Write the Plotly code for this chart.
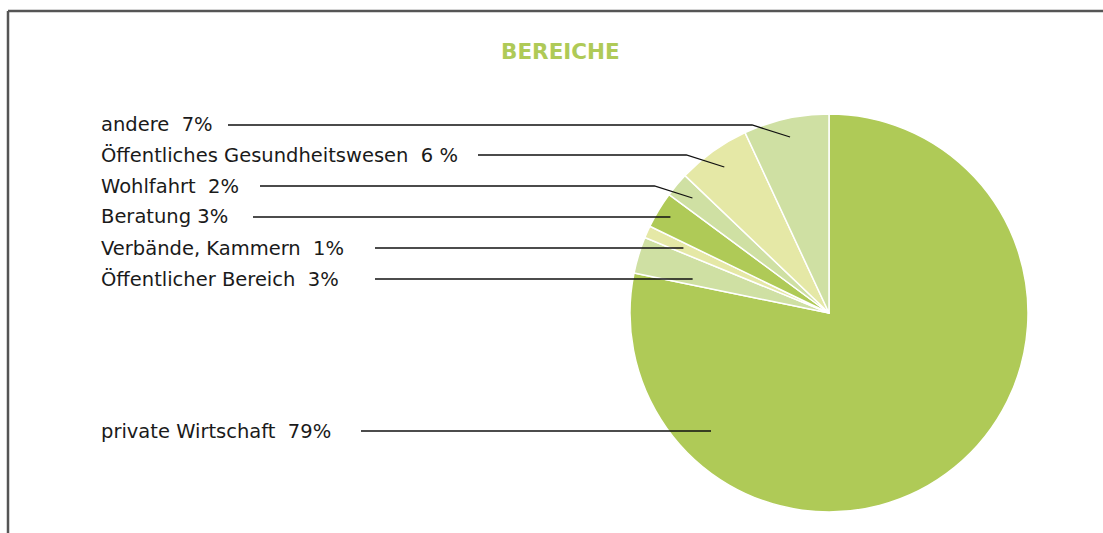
import math
import plotly.graph_objects as go

# ---- data ----
categories = ["andere", "Öffentliches Gesundheitswesen", "Wohlfahrt", "Beratung",
              "Verbände, Kammern", "Öffentlicher Bereich", "private Wirtschaft"]
values = [7, 6, 2, 3, 1, 3, 79]
label_texts = ["andere\u00a0 7%", "Öffentliches Gesundheitswesen\u00a0 6 %", "Wohlfahrt\u00a0 2%",
               "Beratung 3%", "Verbände, Kammern\u00a0 1%", "Öffentlicher Bereich\u00a0 3%",
               "private Wirtschaft\u00a0 79%"]
title_text = "BEREICHE"

# ---- style / layout ----
GREEN = "#AFCA57"
LIGHT = "#CFE0A3"
YELLOW = "#E5E8A6"
slice_colors = [LIGHT, YELLOW, LIGHT, GREEN, YELLOW, LIGHT, GREEN]

W, H = 1103, 533
CX, CY, R = 829, 313, 199
label_x = 99
label_y = [125, 155, 186, 217, 248, 279, 431]
line_start_x = [228, 478, 260, 253, 375, 375, 361]
diag_drop = [12, 12, 12, 0, 0, 0, 0]
diag_dx = 38
angle_override = {5: 76.0, 6: 135.0}
FONT = "DejaVu Sans"


def px(x):
    return x / W


def py(y):
    return 1 - y / H


fig = go.Figure()
# slices listed in reverse so that, drawn clockwise from 12 o'clock,
# the first category ends up immediately left of 12 o'clock (counterclockwise order)
fig.add_trace(go.Pie(
    labels=categories[::-1], values=values[::-1], sort=False, direction="clockwise",
    rotation=0, textinfo="none", hoverinfo="label+percent", showlegend=False,
    marker=dict(colors=slice_colors[::-1], line=dict(color="white", width=1.5)),
    domain=dict(x=[px(CX - R), px(CX + R)], y=[py(CY + R), py(CY - R)]),
))

total = sum(values)
shapes = []
annotations = []
cum = 0
for i, v in enumerate(values):
    mid = (cum + v / 2) / total * 360.0  # counterclockwise from 12 o'clock
    cum += v
    ang = math.radians(angle_override.get(i, mid))
    ly = label_y[i]
    ay = ly + diag_drop[i]
    r = (CY - ay) / math.cos(ang)
    ax = CX - r * math.sin(ang)
    if diag_drop[i]:
        pts = [(line_start_x[i], ly), (ax - diag_dx, ly), (ax, ay)]
    else:
        pts = [(line_start_x[i], ly), (ax, ay)]
    path = "M " + " L ".join(f"{px(x):.5f},{py(y):.5f}" for x, y in pts)
    shapes.append(dict(type="path", xref="paper", yref="paper", path=path,
                       line=dict(color="#111111", width=1.3)))
    annotations.append(dict(x=px(label_x), y=py(ly), xref="paper", yref="paper",
                            xanchor="left", yanchor="middle", showarrow=False,
                            text=label_texts[i],
                            font=dict(family=FONT, size=19.5, color="#1a1a1a")))

# frame (top and left edges)
shapes.append(dict(type="line", xref="paper", yref="paper", x0=px(8), x1=1.0, y0=py(11), y1=py(11),
                   line=dict(color="#555555", width=2.5)))
shapes.append(dict(type="line", xref="paper", yref="paper", x0=px(8), x1=px(8), y0=py(11), y1=0,
                   line=dict(color="#555555", width=2.5)))

annotations.append(dict(x=px(560), y=py(52), xref="paper", yref="paper", xanchor="center",
                        yanchor="middle", showarrow=False, text="<b>" + title_text + "</b>",
                        font=dict(family=FONT, size=21.5, color=GREEN)))

fig.update_layout(width=W, height=H, margin=dict(l=0, r=0, t=0, b=0),
                  paper_bgcolor="white", plot_bgcolor="white",
                  shapes=shapes, annotations=annotations)
fig.write_html("out.html", config={"displayModeBar": False},
               post_script="document.body.style.margin='0';")
